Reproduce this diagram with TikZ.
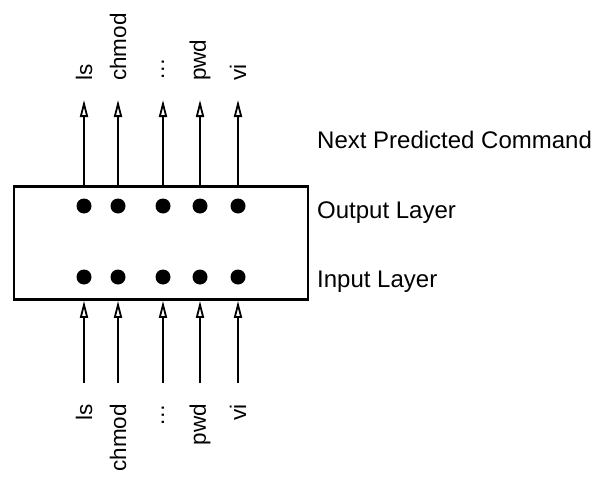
\documentclass[tikz,border=0pt]{standalone}
\usepackage{fontspec}
\setmainfont{Liberation Sans}
\usetikzlibrary{arrows.meta, positioning}

\begin{document}
\begin{tikzpicture}[x=1pt,y=-1pt,
            flow/.style={-{Triangle[open,length=17pt,width=8pt,line width=1.8pt]},line width=2.6pt},
            unit/.style={circle,fill,inner sep=0pt,minimum size=15pt},
            cmd/.style={rotate=90,inner sep=1pt,font=\fontsize{22.5}{27}\selectfont},
            tag/.style={anchor=base west,inner sep=0pt,font=\fontsize{24}{28}\selectfont}]
            \useasboundingbox (0,0) rectangle (593,476);

            \node[draw,line width=2.8pt,minimum width=294pt,minimum height=113pt] (box) at (161,243) {};

            \foreach \x/\lab/\n in {84/ls/1, 118/chmod/2, 163/\ldots/3, 200/pwd/4, 238/vi/5} {
                \node[unit] (out\n) at (\x,206) {};
                \node[unit] (in\n)  at (\x,277) {};
                \coordinate (tip\n)  at (\x,100);
                \coordinate (tail\n) at (\x,383);
                \node[cmd,anchor=west] (nxt\n) at (\x,82)  {\lab};
                \node[cmd,anchor=east] (cur\n) at (\x,403) {\lab};
                \draw[flow] (box.north -| tip\n) -- (tip\n);
                \draw[flow] (tail\n) -- (box.south -| tail\n);
            }

            \node[tag] (pred) at (317,148) {Next Predicted Command};
            \node[tag] (outl) at (317,218) {Output Layer};
            \node[tag] (inl)  at (317,287) {Input Layer};
        \end{tikzpicture}
\end{document}
